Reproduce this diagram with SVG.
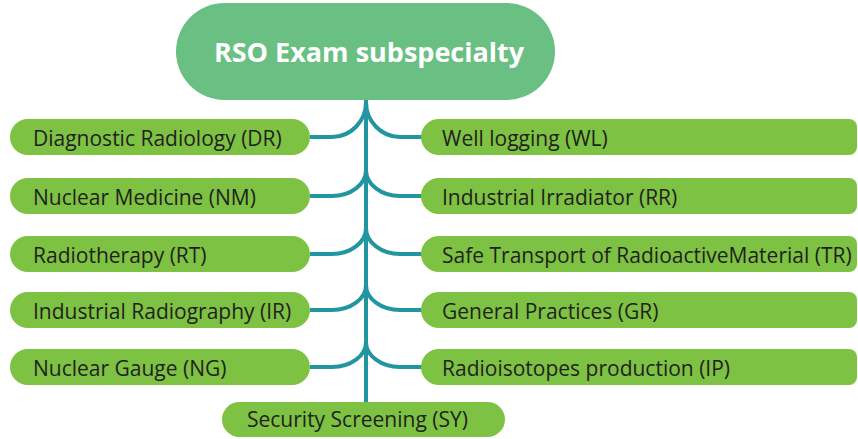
<svg xmlns="http://www.w3.org/2000/svg" width="858" height="439" viewBox="0 0 858 439">
<style>
.box{fill:#7dc242}
.lbl{font-family:"Open Sans","Noto Sans",sans-serif;font-size:21px;fill:#231f20}
.conn{fill:none;stroke:#2196a1;stroke-width:4}
</style>
<rect width="858" height="439" fill="#ffffff"/>
<g id="connectors">
<path class="conn" d="M366,100 V402"/>
<path class="conn" d="M366,102 A34,35 0 0 1 332,137 H310"/>
<path class="conn" d="M366,102 A34,35 0 0 0 400,137 H422"/>
<path class="conn" d="M366,170 A34,26 0 0 1 332,196 H310"/>
<path class="conn" d="M366,170 A34,26 0 0 0 400,196 H422"/>
<path class="conn" d="M366,228 A34,26 0 0 1 332,254 H310"/>
<path class="conn" d="M366,228 A34,26 0 0 0 400,254 H422"/>
<path class="conn" d="M366,285 A34,25 0 0 1 332,310 H310"/>
<path class="conn" d="M366,285 A34,25 0 0 0 400,310 H422"/>
<path class="conn" d="M366,342 A34,25 0 0 1 332,367 H310"/>
<path class="conn" d="M366,342 A34,25 0 0 0 400,367 H422"/>
</g>
<g id="root">
<rect x="176" y="3" width="379" height="97" rx="48.5" fill="#6abf83"/>
<text x="369" y="62" text-anchor="middle" style="font-family:'Open Sans','Noto Sans',sans-serif;font-size:27px;font-weight:bold;fill:#ffffff">RSO Exam subspecialty</text>
</g>
<g id="DR"><rect class="box" x="10" y="119" width="300" height="36" rx="18"/><text class="lbl" x="33" y="146">Diagnostic Radiology (DR)</text></g>
<g id="NM"><rect class="box" x="10" y="178" width="300" height="36" rx="18"/><text class="lbl" x="33" y="205">Nuclear Medicine (NM)</text></g>
<g id="RT"><rect class="box" x="10" y="236" width="300" height="36" rx="18"/><text class="lbl" x="33" y="263">Radiotherapy (RT)</text></g>
<g id="IR"><rect class="box" x="10" y="292" width="300" height="36" rx="18"/><text class="lbl" x="33" y="319">Industrial Radiography (IR)</text></g>
<g id="NG"><rect class="box" x="10" y="349" width="300" height="36" rx="18"/><text class="lbl" x="33" y="376">Nuclear Gauge (NG)</text></g>
<g id="WL"><path class="box" d="M439,119 H849 A8,8 0 0 1 857,127 V147 A8,8 0 0 1 849,155 H439 A18,18 0 0 1 439,119 Z"/><text class="lbl" x="442" y="146">Well logging (WL)</text></g>
<g id="RR"><path class="box" d="M439,178 H849 A8,8 0 0 1 857,186 V206 A8,8 0 0 1 849,214 H439 A18,18 0 0 1 439,178 Z"/><text class="lbl" x="442" y="205">Industrial Irradiator (RR)</text></g>
<g id="TR"><path class="box" d="M439,236 H849 A8,8 0 0 1 857,244 V264 A8,8 0 0 1 849,272 H439 A18,18 0 0 1 439,236 Z"/><text class="lbl" x="442" y="263">Safe Transport of RadioactiveMaterial (TR)</text></g>
<g id="GR"><path class="box" d="M439,292 H849 A8,8 0 0 1 857,300 V320 A8,8 0 0 1 849,328 H439 A18,18 0 0 1 439,292 Z"/><text class="lbl" x="442" y="319">General Practices (GR)</text></g>
<g id="IP"><path class="box" d="M439,349 H849 A8,8 0 0 1 857,357 V377 A8,8 0 0 1 849,385 H439 A18,18 0 0 1 439,349 Z"/><text class="lbl" x="442" y="376">Radioisotopes production (IP)</text></g>
<g id="SY"><rect class="box" x="222" y="402" width="283" height="35" rx="17.5"/><text class="lbl" x="247" y="427">Security Screening (SY)</text></g>
</svg>
